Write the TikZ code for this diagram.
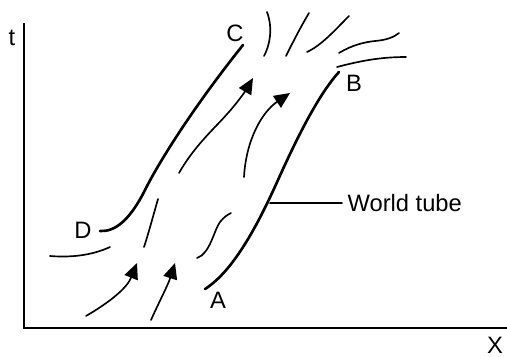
\documentclass[tikz,border=0pt]{standalone}
\usepackage{fontspec}
\setmainfont{Liberation Sans}
\usetikzlibrary{arrows.meta}

\begin{document}
\begin{tikzpicture}[
    x=0.02cm, y=-0.02cm,
    tube/.style={line width=1.5pt, line cap=round},
    flow/.style={line width=0.95pt, line cap=round},
    flowarrow/.style={flow, -{Triangle[length=9pt, width=8pt]}},
    lbl/.style={font=\fontsize{13.5}{16}\selectfont, inner sep=0pt}
]
    \useasboundingbox (0,0) rectangle (507,356);

    % Axes
    \draw[line width=1pt] (24,23) -- (24,328) -- (507,328);
    \node[lbl] (tlabel) at (12,38) {t};
    \node[lbl] (xlabel) at (495,345) {X};

    % World tube boundaries
    \draw[tube] (243,45) .. controls (195,105) and (160,160) .. (145,190)
        .. controls (130,220) and (115,232) .. (100,231);
    \draw[tube] (205,289) .. controls (235,270) and (260,220) .. (278,180)
        .. controls (296,140) and (318,95) .. (339,72);
    \node[lbl] (clabel) at (235,33) {C};
    \node[lbl] (dlabel) at (83,230) {D};
    \node[lbl] (alabel) at (218,300) {A};
    \node[lbl] (blabel) at (354,83) {B};

    % World tube label
    \coordinate (tubept) at (270,203);
    \node[lbl, anchor=west, inner xsep=3pt] (wtlabel) at (342,203) {World tube};
    \draw[flow] (tubept) -- (wtlabel.west);

    % Flow lines below
    \draw[flow] (50,256) .. controls (75,258) and (95,254) .. (110,247);
    \draw[flow] (158,199) .. controls (152,220) and (148,235) .. (144,247);
    \draw[flow] (197,258) .. controls (210,254) and (214,230) .. (220,222)
        .. controls (224,217) and (227,215) .. (231,213);
    \draw[flowarrow] (86,316) .. controls (110,302) and (127,288) .. (137,263);
    \draw[flowarrow] (151,320) .. controls (160,300) and (168,285) .. (175,263);

    % Flow lines inside
    \draw[flowarrow] (179,173) .. controls (195,145) and (215,128) .. (228,113)
        .. controls (238,102) and (246,90) .. (253,78);
    \draw[flowarrow] (244,177) .. controls (246,140) and (262,112) .. (290,93);

    % Flow lines above
    \draw[flow] (267,12) .. controls (273,28) and (270,45) .. (264,56);
    \draw[flow] (309,13) .. controls (300,28) and (292,44) .. (286,56);
    \draw[flow] (349,16) .. controls (335,30) and (322,45) .. (307,52);
    \draw[flow] (339,53) .. controls (352,45) and (365,42) .. (375,41)
        .. controls (387,40) and (394,37) .. (399,33);
    \draw[flow] (337,67) .. controls (360,61) and (380,57) .. (406,57);
\end{tikzpicture}
\end{document}
